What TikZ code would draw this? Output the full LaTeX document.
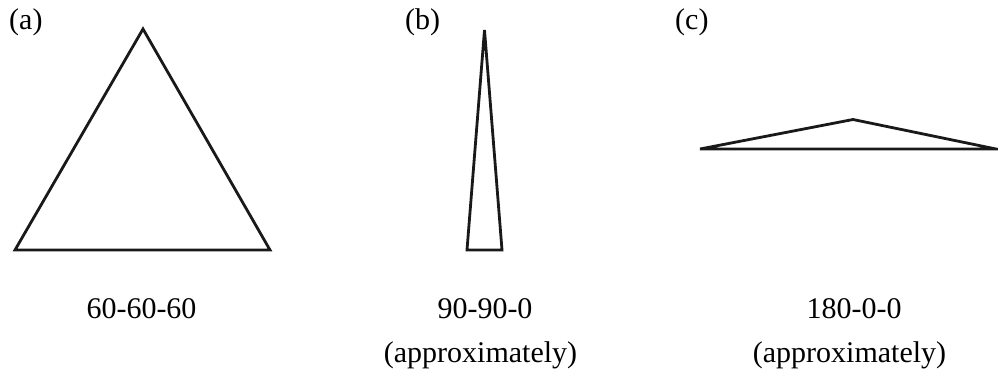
\documentclass[tikz,border=0pt]{standalone}
\usepackage{fontspec}
\setmainfont{Liberation Serif}
\begin{document}
\begin{tikzpicture}[x=1pt,y=-1pt,
  tri/.style={draw=black!90,line width=2.8pt,line join=miter},
  lbl/.style={font=\fontsize{30}{36}\selectfont,inner sep=0pt,anchor=base},
  tag/.style={font=\fontsize{30}{36}\selectfont,inner sep=0pt,anchor=base west}]
\useasboundingbox (0,0) rectangle (998,373);
% triangle (a)
\coordinate (a1) at (143,29);
\coordinate (a2) at (15,250);
\coordinate (a3) at (270,250);
\draw[tri] (a1) -- (a2) -- (a3) -- cycle;
% triangle (b)
\coordinate (b1) at (484.5,30);
\coordinate (b2) at (467,250);
\coordinate (b3) at (502,250);
\draw[tri] (b1) -- (b2) -- (b3) -- cycle;
% triangle (c)
\coordinate (c1) at (853,119.5);
\coordinate (c2) at (700,149);
\coordinate (c3) at (996,149);
\draw[tri] (c1) -- (c2) -- (c3) -- cycle;
% tags
\node[tag] (ta) at (9,29.5) {(a)};
\node[tag] (tb) at (405,29.5) {(b)};
\node[tag] (tc) at (675,29.5) {(c)};
% captions
\node[lbl] (la) at (141.5,318) {60-60-60};
\node[lbl] (lb) at (485,318) {90-90-0};
\node[lbl] (lb2) at (480.5,362) {(approximately)};
\node[lbl] (lc) at (854,318) {180-0-0};
\node[lbl] (lc2) at (849.5,362) {(approximately)};
\end{tikzpicture}
\end{document}
